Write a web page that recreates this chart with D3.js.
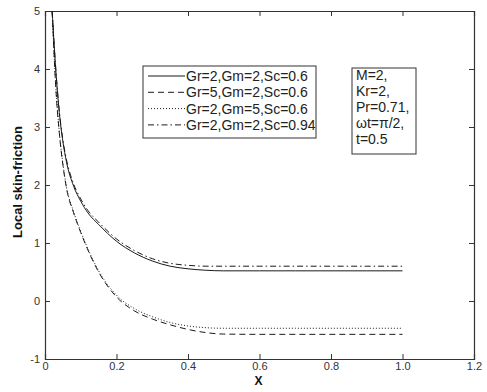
<!DOCTYPE html>
<html>
<head>
<meta charset="utf-8">
<script src="https://cdn.jsdelivr.net/npm/d3@7/dist/d3.min.js"></script>
<style>
  html, body { margin: 0; padding: 0; background: #fff; }
  svg { display: block; font-family: "Liberation Sans", Arial, sans-serif; }
</style>
</head>
<body>
<svg id="chart" width="487" height="392"></svg>
<script>
// Sampled X positions shared by all four series
const xs = [0.02, 0.03, 0.04, 0.05, 0.06, 0.08, 0.10, 0.12, 0.15, 0.20, 0.25, 0.30, 0.35, 0.40, 0.45, 0.50, 0.60, 0.70, 0.80, 0.90, 1.00];

// Local skin-friction for each parameter set
const solidVals   = [5.0, 4.0, 3.25, 2.75, 2.4, 1.98, 1.72, 1.52, 1.32, 1.03, 0.83, 0.69, 0.60, 0.555, 0.53, 0.52, 0.52, 0.52, 0.52, 0.52, 0.52];
const dashedVals  = [5.0, 3.7, 2.9, 2.35, 1.95, 1.52, 1.18, 0.88, 0.50, 0.07, -0.17, -0.31, -0.41, -0.49, -0.545, -0.57, -0.575, -0.575, -0.575, -0.575, -0.575];
const dottedVals  = [5.0, 3.72, 2.92, 2.37, 1.97, 1.54, 1.2, 0.9, 0.52, 0.1, -0.13, -0.27, -0.37, -0.43, -0.46, -0.47, -0.47, -0.47, -0.47, -0.47, -0.47];
const dashDotVals = [5.0, 4.02, 3.28, 2.78, 2.44, 2.02, 1.76, 1.56, 1.36, 1.07, 0.87, 0.73, 0.65, 0.615, 0.60, 0.60, 0.60, 0.60, 0.60, 0.60, 0.60];

const seriesLabels = ["Gr=2,Gm=2,Sc=0.6", "Gr=5,Gm=2,Sc=0.6", "Gr=2,Gm=5,Sc=0.6", "Gr=2,Gm=2,Sc=0.94"];
const paramLines = ["M=2,", "Kr=2,", "Pr=0.71,", "\u03c9t=\u03c0/2,", "t=0.5"];

const xTicks = [0, 0.2, 0.4, 0.6, 0.8, 1.0, 1.2];
const xTickLabels = ["0", "0.2", "0.4", "0.6", "0.8", "1.0", "1.2"];
const yTicks = [-1, 0, 1, 2, 3, 4, 5];
const yTickLabels = ["-1", "0", "1", "2", "3", "4", "5"];

const svg = d3.select("#chart");
const L = 45, R = 474, T = 11, B = 359;

const x = d3.scaleLinear().domain([0, 1.2]).range([L, R]);
const y = d3.scaleLinear().domain([-1, 5]).range([B, T]);

const ink = "#1a1a1a";
const dashes = [null, "6,4", "1,2", "6,3,1.5,3"];
const allVals = [solidVals, dashedVals, dottedVals, dashDotVals];

svg.append("clipPath").attr("id", "plotClip")
  .append("rect").attr("x", L).attr("y", T).attr("width", R - L).attr("height", B - T);

// Axes with inward ticks, mirrored on top and right
const axisFont = 11;
const axBottom = svg.append("g").attr("transform", `translate(0,${B})`)
  .call(d3.axisBottom(x).tickValues(xTicks).tickSize(-5).tickPadding(3)
    .tickFormat((d, i) => xTickLabels[i]));
const axTop = svg.append("g").attr("transform", `translate(0,${T})`)
  .call(d3.axisTop(x).tickValues(xTicks).tickSize(-5).tickFormat(""));
const axLeft = svg.append("g").attr("transform", `translate(${L},0)`)
  .call(d3.axisLeft(y).tickValues(yTicks).tickSize(-5).tickPadding(5)
    .tickFormat((d, i) => yTickLabels[i]));
const axRight = svg.append("g").attr("transform", `translate(${R},0)`)
  .call(d3.axisRight(y).tickValues(yTicks).tickSize(-5).tickFormat(""));

[axBottom, axTop, axLeft, axRight].forEach(g => {
  g.select(".domain").attr("stroke", "#333").attr("stroke-width", 1.2);
  g.selectAll(".tick line").attr("stroke", "#333");
  g.selectAll("text").attr("fill", "#333").style("font-size", axisFont + "px")
    .style("font-family", "'Liberation Sans', Arial, sans-serif");
});

// Curves
const line = d3.line()
  .x((d, i) => x(xs[i]))
  .y(d => y(d))
  .curve(d3.curveMonotoneX);

const curves = svg.append("g").attr("clip-path", "url(#plotClip)");
allVals.forEach((vals, k) => {
  curves.append("path")
    .datum(vals)
    .attr("d", line)
    .attr("fill", "none")
    .attr("stroke", ink)
    .attr("stroke-width", 1)
    .attr("stroke-dasharray", dashes[k]);
});

// Axis titles
svg.append("text")
  .attr("x", (L + R) / 2 - 1).attr("y", 385)
  .attr("text-anchor", "middle")
  .style("font-weight", "bold").style("font-size", "12px")
  .attr("fill", "#111")
  .text("X");

svg.append("text")
  .attr("transform", `translate(22,182) rotate(-90)`)
  .attr("text-anchor", "middle")
  .style("font-weight", "bold").style("font-size", "13px")
  .attr("fill", "#111")
  .text("Local skin-friction");

// Series legend
const leg = svg.append("g");
leg.append("rect")
  .attr("x", 143).attr("y", 66).attr("width", 173).attr("height", 72)
  .attr("fill", "#fff").attr("stroke", "#333").attr("stroke-width", 1);
seriesLabels.forEach((lab, k) => {
  const cy = 76 + k * 16.3;
  leg.append("line")
    .attr("x1", 148).attr("x2", 185).attr("y1", cy).attr("y2", cy)
    .attr("stroke", ink).attr("stroke-width", 1)
    .attr("stroke-dasharray", dashes[k]);
  leg.append("text")
    .attr("x", 186).attr("y", cy + 5)
    .style("font-size", "14px").attr("fill", "#222")
    .text(lab);
});

// Parameter box
const pbox = svg.append("g");
pbox.append("rect")
  .attr("x", 352).attr("y", 68).attr("width", 64).attr("height", 86)
  .attr("fill", "#fff").attr("stroke", "#333").attr("stroke-width", 1);
paramLines.forEach((t, k) => {
  pbox.append("text")
    .attr("x", 356).attr("y", 80 + k * 16)
    .style("font-size", "14px").attr("fill", "#222")
    .text(t);
});
</script>
</body>
</html>
